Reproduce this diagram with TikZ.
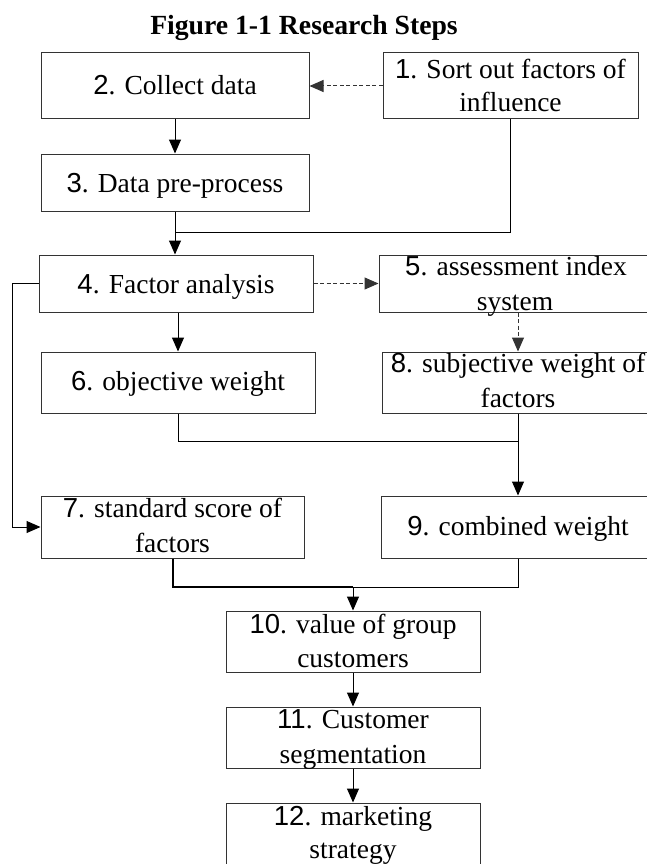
\documentclass[tikz,border=0pt]{standalone}
\usepackage{fontspec}
\setmainfont{Liberation Serif}
\newfontfamily\numfont{Liberation Sans}
\usetikzlibrary{arrows.meta,calc}
\newcommand{\nm}[1]{{\numfont #1}}
\begin{document}
\begin{tikzpicture}[x=1pt,y=-1pt,
  box/.style={draw=black!80, line width=1pt, inner sep=0pt},
  txt/.style={anchor=base, inner sep=0pt, font=\fontsize{27.5}{34}\selectfont},
  tip/.style={-{Triangle[length=14pt,width=12pt]}},
  con/.style={draw=black, line width=1pt},
  dashcon/.style={draw=black!80, line width=1pt, dash pattern=on 4pt off 2.5pt},
  boldcon/.style={draw=black, line width=2pt}
]
\useasboundingbox (0,0) rectangle (647,864);
\node[anchor=base, inner sep=0pt, font=\fontsize{27.7}{33}\selectfont\bfseries] (title) at (304,35) {Figure 1-1 Research Steps};

% boxes
\node[box, minimum width=255pt, minimum height=66pt] (b1) at (510.5,86) {};
\node[box, minimum width=268pt, minimum height=66pt] (b2) at (175,86) {};
\node[box, minimum width=268pt, minimum height=57pt] (b3) at (175,182.5) {};
\node[box, minimum width=274pt, minimum height=57pt] (b4) at (176,283.5) {};
\node[box, minimum width=274pt, minimum height=57pt] (b5) at (516,283.5) {};
\node[box, minimum width=274pt, minimum height=61pt] (b6) at (178,382.5) {};
\node[box, minimum width=272pt, minimum height=61pt] (b8) at (518,382.5) {};
\node[box, minimum width=263pt, minimum height=62pt] (b7) at (172.5,527) {};
\node[box, minimum width=274pt, minimum height=62pt] (b9) at (518,527) {};
\node[box, minimum width=254pt, minimum height=61pt] (b10) at (353,641.5) {};
\node[box, minimum width=254pt, minimum height=61pt] (b11) at (353,737.5) {};
\node[box, minimum width=254pt, minimum height=66pt] (b12) at (353,836) {};

% texts
\node[txt] (t1a) at (510.5,79) {\nm{1}. Sort out factors of};
\node[txt] (t1b) at (510.5,112) {influence};
\node[txt] (t2) at (175,95) {\nm{2}. Collect data};
\node[txt] (t3) at (175,192) {\nm{3}. Data pre-process};
\node[txt] (t4) at (176,293) {\nm{4}. Factor analysis};
\node[txt] (t5a) at (516,275) {\nm{5}. assessment index};
\node[txt] (t5b) at (515,310) {system};
\node[txt] (t6) at (178,390) {\nm{6}. objective weight};
\node[txt] (t8a) at (518,372) {\nm{8}. subjective weight of};
\node[txt] (t8b) at (518,407) {factors};
\node[txt] (t7a) at (172.5,517) {\nm{7}. standard score of};
\node[txt] (t7b) at (172.5,552) {factors};
\node[txt] (t9) at (518,535) {\nm{9}. combined weight};
\node[txt] (t10a) at (353,633) {\nm{10}. value of group};
\node[txt] (t10b) at (353,667) {customers};
\node[txt] (t11a) at (353,728) {\nm{11}. Customer};
\node[txt] (t11b) at (353,763) {segmentation};
\node[txt] (t12a) at (353,825) {\nm{12}. marketing};
\node[txt] (t12b) at (353,858) {strategy};

% junction coordinates
\coordinate (j1) at (175,232);
\coordinate (j2) at (518,441);
\coordinate (j3) at (353,587);
\coordinate (j4) at (12,283.5);

% connectors
\draw[dashcon, tip] (b1.west) -- (b2.east);
\draw[con, tip] (b2.south) -- (b3.north);
\draw[con] (b3.south) -- (j1);
\draw[con] (b1.south) |- (j1);
\draw[con, tip] (j1) -- (j1 |- b4.north);
\draw[dashcon, tip] (b4.east) -- (b5.west);
\draw[con, tip] (b6.north |- b4.south) -- (b6.north);
\draw[dashcon, tip] (b8.north |- b5.south) -- (b8.north);
\draw[con] (b6.south) |- (j2);
\draw[con, tip] (b8.south) -- (b9.north);
\draw[con, tip] (b4.west) -- (j4) |- (b7.west);
\draw[boldcon] (b7.south) |- (j3);
\draw[con] (b9.south) |- (j3);
\draw[con, tip] (j3) -- (b10.north);
\draw[con, tip] (b10.south) -- (b11.north);
\draw[con, tip] (b11.south) -- (b12.north);
\end{tikzpicture}
\end{document}
